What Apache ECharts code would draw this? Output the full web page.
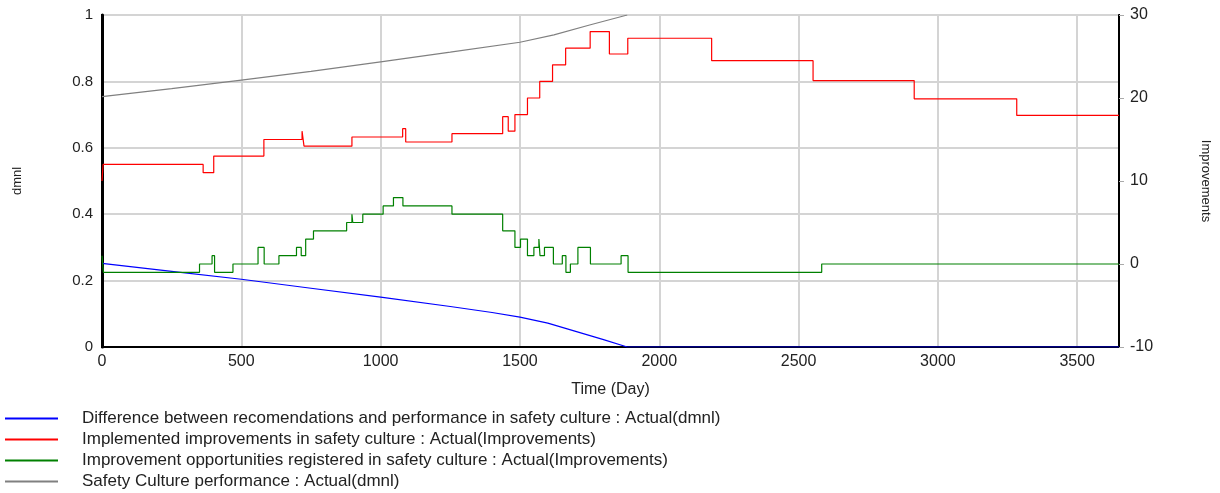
<!DOCTYPE html>
<html>
<head>
<meta charset="utf-8">
<script src="https://cdn.jsdelivr.net/npm/echarts@6/dist/echarts.min.js"></script>
<style>
  html, body { margin: 0; padding: 0; background: #fff; }
  #chart { width: 1220px; height: 493px; }
</style>
</head>
<body>
<div id="chart"></div>
<script>
// Difference between recomendations and performance (dmnl, left axis)
const blueTimes = [0, 250, 500, 750, 1000, 1250, 1400, 1500, 1600, 1700, 1800, 1885, 3650];
const blueValues = [0.252, 0.228, 0.204, 0.177, 0.150, 0.122, 0.104, 0.090, 0.072, 0.047, 0.022, 0, 0];

// Safety Culture performance (dmnl, left axis)
const grayTimes = [0, 250, 500, 750, 1000, 1250, 1500, 1622, 1750, 1885];
const grayValues = [0.754, 0.778, 0.804, 0.830, 0.859, 0.888, 0.918, 0.94, 0.97, 1.0];

// Implemented improvements (Improvements, right axis) - value holds until next time
const redTimes = [0, 4, 363, 401, 581, 718, 725, 897, 1079, 1090, 1256, 1438, 1458, 1482, 1527, 1571, 1617, 1664, 1752, 1821, 1887, 2188, 2552, 2915, 3283, 3650];
const redValues = [10, 12, 11, 13, 15, 16, 14.2, 15.3, 16.3, 14.7, 15.7, 17.75, 16, 18, 20, 22, 24, 26, 28, 25.3, 27.2, 24.5, 22.1, 19.9, 17.9, 17.9];

// Improvement opportunities registered (Improvements, right axis)
const greenTimes = [0, 5, 350, 395, 404, 470, 560, 582, 635, 698, 715, 731, 759, 878, 897, 900, 936, 1009, 1046, 1080, 1256, 1438, 1482, 1502, 1527, 1550, 1568, 1572, 1588, 1620, 1652, 1665, 1681, 1708, 1753, 1863, 1888, 2583, 3650];
const greenValues = [1, -1, 0, 1, -1, 0, 2, 0, 1, 2, 1, 3, 4, 5, 6, 5, 6, 7, 8, 7, 6, 4, 2, 3, 1, 2, 3, 1, 2, 0, 1, -1, 0, 2, 0, 1, -1, 0, 0];

const seriesNames = [
  'Difference between recomendations and performance in safety culture : Actual(dmnl)',
  'Implemented improvements in safety culture : Actual(Improvements)',
  'Improvement opportunities registered in safety culture : Actual(Improvements)',
  'Safety Culture performance : Actual(dmnl)'
];

const pairs = (ts, vs) => ts.map((t, i) => [t, vs[i]]);

const chart = echarts.init(document.getElementById('chart'));
const font = 'Liberation Sans, Arial, sans-serif';

const option = {
  animation: false,
  textStyle: { fontFamily: font },
  grid: {
    left: 102, right: 100, top: 15, bottom: 146,
    show: true, borderColor: '#000', borderWidth: 2
  },
  legend: {
    orient: 'vertical',
    left: 5, top: 410,
    padding: 0,
    itemWidth: 53, itemHeight: 2, itemGap: 4,
    icon: 'rect',
    data: seriesNames,
    textStyle: { color: '#222', fontSize: 17, fontFamily: font, padding: [0, 0, 0, 19] }
  },
  xAxis: {
    type: 'value',
    min: 0, max: 3650, interval: 500,
    name: 'Time (Day)',
    nameLocation: 'middle',
    nameGap: 35,
    nameTextStyle: { color: '#222', fontSize: 16, fontFamily: font },
    axisLine: { show: true, lineStyle: { color: '#000', width: 2 } },
    axisTick: { show: false },
    axisLabel: {
      color: '#222', fontSize: 16, margin: 7, showMaxLabel: false,
      formatter: v => String(v)
    },
    splitLine: { show: true, lineStyle: { color: '#d4d4d4', width: 2 } }
  },
  yAxis: [
    {
      type: 'value',
      position: 'left',
      min: 0, max: 1, interval: 0.2,
      name: 'dmnl',
      nameLocation: 'middle',
      nameGap: 78,
      nameTextStyle: { color: '#222', fontSize: 13, fontFamily: font },
      axisLine: { show: true, lineStyle: { color: '#000', width: 3 } },
      axisTick: { show: false },
      axisLabel: { color: '#222', fontSize: 15, margin: 9 },
      splitLine: { show: true, lineStyle: { color: '#d4d4d4', width: 2 } }
    },
    {
      type: 'value',
      position: 'right',
      min: -10, max: 30, interval: 10,
      name: 'Improvements',
      nameLocation: 'middle',
      nameGap: 80,
      nameRotate: -90,
      nameTextStyle: { color: '#222', fontSize: 13, fontFamily: font },
      axisLine: { show: true, lineStyle: { color: '#000', width: 2 } },
      axisTick: { show: true, length: 5, lineStyle: { color: '#aaa' } },
      axisLabel: { color: '#222', fontSize: 16, margin: 11 },
      splitLine: { show: false }
    }
  ],
  series: [
    {
      name: seriesNames[0], type: 'line', yAxisIndex: 0, symbol: 'none',
      data: pairs(blueTimes, blueValues),
      lineStyle: { color: '#0000ff', width: 1.2 }, itemStyle: { color: '#0000ff' }
    },
    {
      name: seriesNames[1], type: 'line', yAxisIndex: 1, symbol: 'none', step: 'end',
      data: pairs(redTimes, redValues),
      lineStyle: { color: '#ff0000', width: 1.2 }, itemStyle: { color: '#ff0000' }
    },
    {
      name: seriesNames[2], type: 'line', yAxisIndex: 1, symbol: 'none', step: 'end',
      data: pairs(greenTimes, greenValues),
      lineStyle: { color: '#008000', width: 1.2 }, itemStyle: { color: '#008000' }
    },
    {
      name: seriesNames[3], type: 'line', yAxisIndex: 0, symbol: 'none',
      data: pairs(grayTimes, grayValues),
      lineStyle: { color: '#808080', width: 1.2 }, itemStyle: { color: '#808080' }
    }
  ]
};

chart.setOption(option);
</script>
</body>
</html>
